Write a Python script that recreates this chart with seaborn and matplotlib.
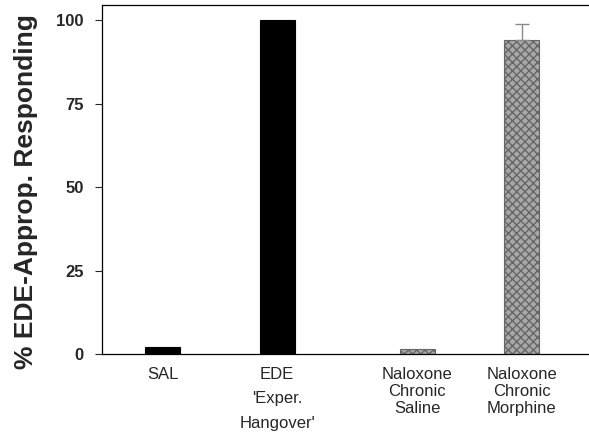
import matplotlib
matplotlib.use("Agg")
import matplotlib.pyplot as plt
import seaborn as sns
import numpy as np

# data
groups = ["SAL", "EDE\n'Exper.\nHangover'", "Naloxone\nChronic\nSaline", "Naloxone\nChronic\nMorphine"]
responding = [2.0, 100.0, 1.5, 94.0]
sem_upper = [0.0, 0.0, 0.0, 5.0]
bar_colors = ["black", "black", "#a8a8a8", "#a8a8a8"]

# horizontal placement (uneven gap between pairs)
x_pos = [1.0, 2.04, 3.31, 4.26]

sns.set_style("ticks")
plt.rcParams["font.family"] = ["Liberation Sans", "DejaVu Sans"]

fig = plt.figure(figsize=(5.89, 4.34), dpi=100)
ax = fig.add_axes([0.173, 0.184, 0.827, 0.804])

min_gap = np.min(np.diff(x_pos))
sns.barplot(x=x_pos, y=responding, native_scale=True, width=0.318 / min_gap,
            color="black", ax=ax, errorbar=None, linewidth=0.8, edgecolor="black")

for patch, c in zip(ax.patches, bar_colors):
    patch.set_facecolor(c)
    if c != "black":
        patch.set_hatch("xxxx")
        patch.set_edgecolor("#666666")

for x, y, e in zip(x_pos, responding, sem_upper):
    if e > 0:
        ax.errorbar(x, y, yerr=[[0], [e]], fmt="none", ecolor="#8a8a8a",
                    elinewidth=1.0, capsize=5, capthick=1.0)

ax.set_xlim(0.45, 4.87)
ax.set_ylim(0, 104.5)
ax.set_yticks([0, 25, 50, 75, 100])
ax.set_yticklabels(["0", "25", "50", "75", "100"], fontsize=12, fontweight="bold")
ax.set_xticks(x_pos)
ax.set_xticklabels(groups, fontsize=12)
for lab in ax.get_xticklabels():
    lab.set_linespacing(1.2)
ax.get_xticklabels()[1].set_linespacing(1.8)
ax.tick_params(axis="x", length=0, pad=9)
ax.tick_params(axis="y", length=5, width=0.8, pad=8)

ax.set_ylabel("% EDE-Approp. Responding", fontsize=19, fontweight="bold")
ax.yaxis.set_label_coords(-0.131, 0.467)

for s in ["left", "bottom", "top"]:
    ax.spines[s].set_linewidth(0.9)
    ax.spines[s].set_color("black")
ax.spines["right"].set_visible(False)

fig.savefig("out.png", dpi=100)
